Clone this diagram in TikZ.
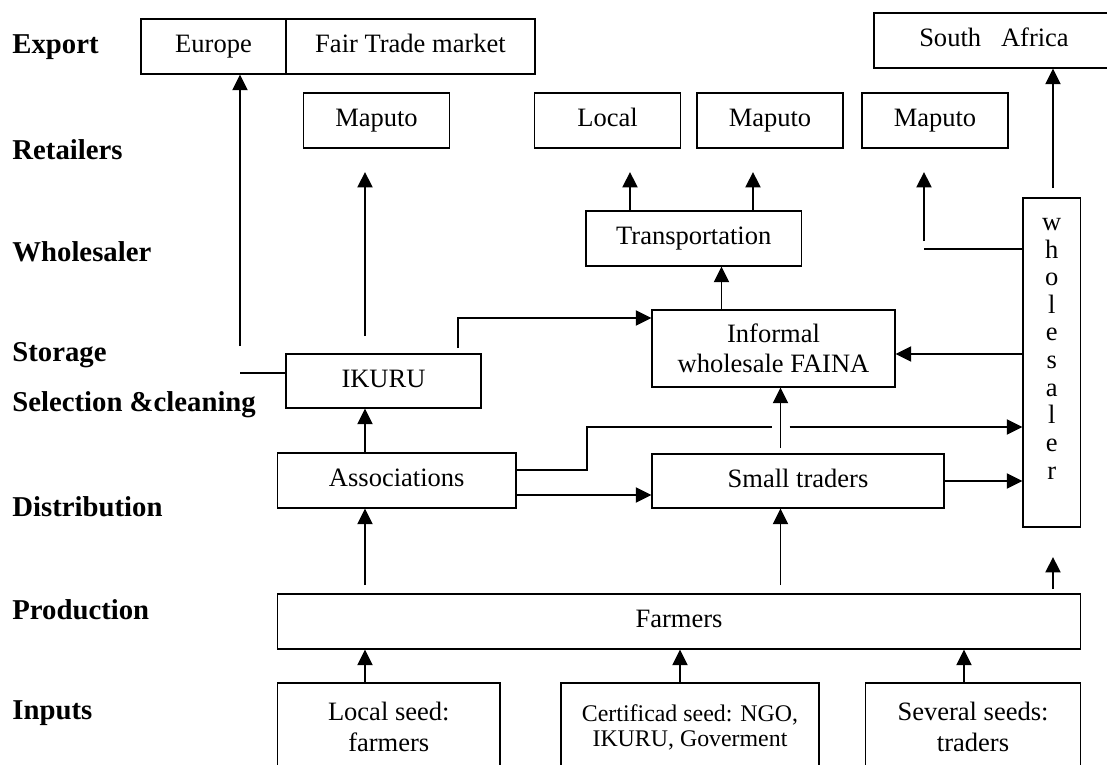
\documentclass[tikz,border=0pt]{standalone}
\usepackage{fontspec}
\setmainfont{Liberation Serif}
\usetikzlibrary{arrows.meta,calc}

\begin{document}
\begin{tikzpicture}[x=0.4525pt,y=-0.4525pt,
    every node/.style={font=\fontsize{12}{13.8}\selectfont,inner sep=0pt},
    stage/.style={font=\fontsize{13}{15}\selectfont\bfseries,anchor=west},
    box/.style 2 args={draw,line width=0.6pt,align=center,
          minimum width=#1*0.4525pt,minimum height=#2*0.4525pt},
    oneline/.style={text height=8.4pt,text depth=2.6pt},
    flow/.style={-{Triangle[length=7pt,width=6.8pt]},line width=0.9pt},
    link/.style={line width=0.9pt}]
  \useasboundingbox (0,0) rectangle (1107,765);

  % stages on the left
  \foreach \y/\n/\t in {
      47/lblExport/Export,
      150/lblRetail/Retailers,
      252/lblWhole/Wholesaler,
      355/lblStore/Storage,
      405/lblSelect/{Selection \&cleaning},
      507/lblDistrib/Distribution,
      610/lblProd/Production,
      713/lblInputs/Inputs}
    \node[stage] (\n) at (12,\y) {\t};

  % export and retail
  \node[box={145}{55},oneline] (europe) at (213.5,46.5) {Europe};
  \node[box={249}{55},oneline] (fairtrade) at (410.5,46.5) {Fair Trade market};
  \node[box={240}{55},oneline] (southafrica) at (994,40.5) {South\ \ \ Africa};
  \foreach \x/\n/\t in {376.5/retMaputoA/Maputo, 607.5/retLocal/Local,
      770/retMaputoB/Maputo, 935/retMaputoC/Maputo}
    \node[box={146}{55},oneline] (\n) at (\x,120.5) {\t};

  % chain
  \node[box={215.5}{55},oneline] (transport) at (693.75,238.5) {Transportation};
  \node[box={57.5}{329},font=\fontsize{12}{12.5}\selectfont] (wholesaler)
    at (1051.75,362.5) {w\\h\\o\\l\\e\\s\\a\\l\\e\\r\\\mbox{}};
  \node[box={195}{54},oneline] (ikuru) at (383.5,381) {IKURU};
  \node[box={243}{77}] (faina) at (773.5,348.5) {Informal\\wholesale FAINA};
  \node[box={238.5}{55},oneline] (assoc) at (396.75,480.5) {Associations};
  \node[box={292}{54},oneline] (traders) at (798,481) {Small traders};
  \node[box={803}{55},oneline] (farmers) at (679,621.5) {Farmers};

  % inputs
  \node[box={222.5}{88}] (seedLocal) at (388.75,727) {Local seed:\\farmers};
  \node[box={258}{88},font=\fontsize{10.8}{11.3}\selectfont] (seedCert)
    at (690,727) {Certificad seed: NGO,\\IKURU, Goverment};
  \node[box={215}{88}] (seedTrader) at (973,727) {Several seeds:\\traders};

  % free ends
  \coordinate (euroFoot) at (240,346);
  \coordinate (ikuruStub) at (240,373);
  \coordinate (colMid) at (365,0);
  \coordinate (mapAFoot) at (365,336);
  \coordinate (mapATip) at (365,172);
  \coordinate (localTip) at (630,172);
  \coordinate (mapBTip) at (753,172);
  \coordinate (mapCTip) at (924,172);
  \coordinate (mapCFoot) at (924,241);
  \coordinate (mapCBend) at (924,249);
  \coordinate (saFoot) at (1053,188);
  \coordinate (colTrans) at (721.5,0);
  \coordinate (ikuruOut) at (458,348);
  \coordinate (fainaIn) at (0,318);
  \coordinate (backRow) at (0,354);
  \coordinate (assocKink) at (587,470);
  \coordinate (hopL) at (771.5,427);
  \coordinate (hopR) at (789.5,427);
  \coordinate (lowRow) at (0,495);
  \coordinate (tradersUp) at (780.5,448);
  \coordinate (farmAssoc) at (365,585);
  \coordinate (farmTraders) at (780.5,585);
  \coordinate (farmWhole) at (1053,589);
  \coordinate (farmWholeTip) at (1053,557);

  % upper flows
  \draw[flow] (euroFoot) -- (euroFoot |- europe.south);
  \draw[link] (ikuruStub) -- (ikuruStub -| ikuru.west);
  \draw[flow] (mapAFoot) -- (mapATip);
  \draw[flow] (localTip |- transport.north) -- (localTip);
  \draw[flow] (mapBTip |- transport.north) -- (mapBTip);
  \draw[flow] (mapCFoot) -- (mapCTip);
  \draw[link] (mapCBend -| wholesaler.west) -- (mapCBend);
  \draw[flow] (saFoot) -- (saFoot |- southafrica.south);
  \draw[flow] (faina.north -| colTrans) -- (transport.south -| colTrans);
  \draw[flow] (ikuruOut) |- (fainaIn -| faina.west);
  \draw[flow] (backRow -| wholesaler.west) -- (backRow -| faina.east);

  % middle flows
  \draw[flow] (assoc.north -| colMid) -- (ikuru.south -| colMid);
  \draw[link] (assocKink -| assoc.east) -- (assocKink) |- (hopL);
  \draw[flow] (hopR) -- (hopR -| wholesaler.west);
  \draw[flow] (lowRow -| assoc.east) -- (lowRow -| traders.west);
  \draw[flow] (traders.east) -- (traders.east -| wholesaler.west);
  \draw[flow] (tradersUp) -- (tradersUp |- faina.south);

  % from farmers and inputs
  \draw[flow] (farmAssoc) -- (farmAssoc |- assoc.south);
  \draw[flow] (farmTraders) -- (farmTraders |- traders.south);
  \draw[flow] (farmWhole) -- (farmWholeTip);
  \foreach \s/\x in {seedLocal/365, seedCert/680, seedTrader/964}{
    \coordinate (inCol) at (\x,0);
    \draw[flow] (\s.north -| inCol) -- (farmers.south -| inCol);
  }
\end{tikzpicture}
\end{document}
